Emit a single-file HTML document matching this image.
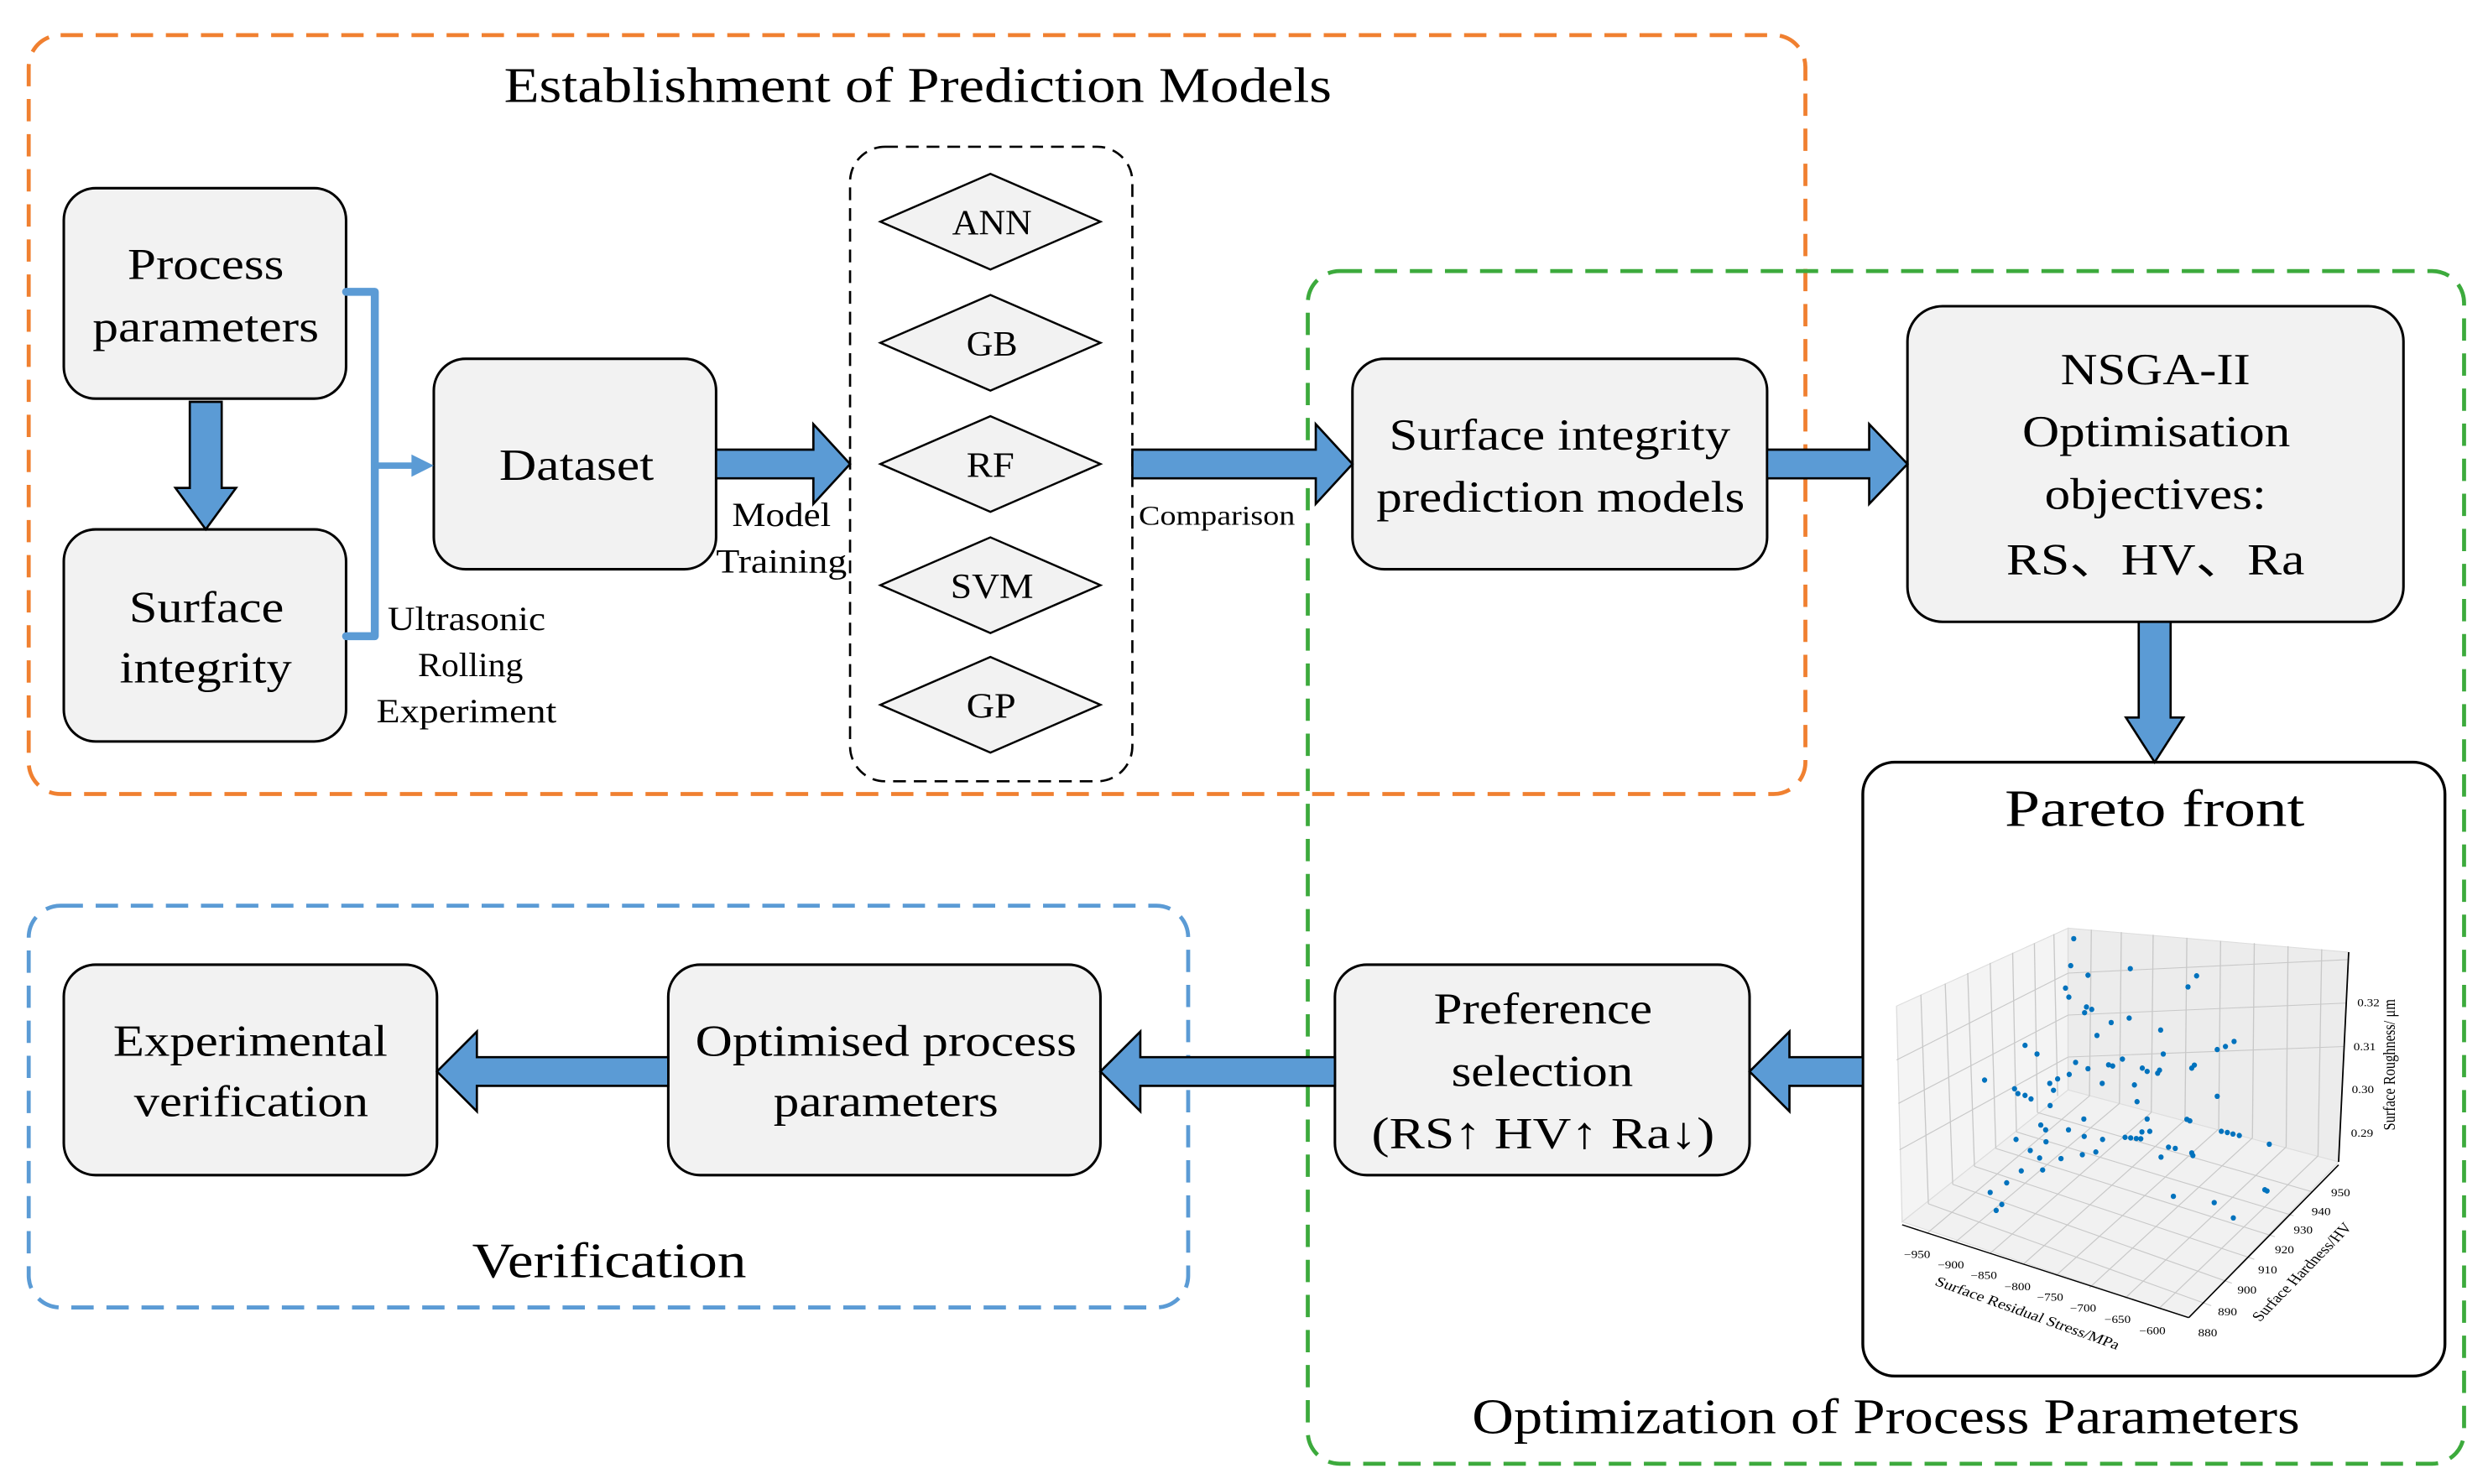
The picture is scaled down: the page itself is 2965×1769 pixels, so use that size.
<!DOCTYPE html>
<html><head><meta charset="utf-8"><style>
html,body{margin:0;padding:0;background:#fff}
svg{display:block}
svg text{font-family:"Liberation Serif","Times New Roman",serif;fill:#000}
</style></head><body>
<svg width="2965" height="1769" viewBox="0 0 1560 930.7" xmlns="http://www.w3.org/2000/svg" font-family="Liberation Serif, serif">
<rect x="0" y="0" width="1560" height="931" fill="#fff"/>
<rect x="18" y="22" width="1114" height="476" rx="20" fill="none" stroke="#F08030" stroke-width="2.5" stroke-dasharray="14 8"/>
<rect x="820" y="170" width="725" height="748" rx="20" fill="none" stroke="#3CAA3C" stroke-width="2.5" stroke-dasharray="14 8"/>
<rect x="18" y="568" width="727" height="252" rx="20" fill="none" stroke="#5B9BD5" stroke-width="2.5" stroke-dasharray="14 8"/>
<text x="316" y="64" font-size="31" textLength="519" lengthAdjust="spacingAndGlyphs">Establishment of Prediction Models</text>
<text x="923" y="899" font-size="31" textLength="519" lengthAdjust="spacingAndGlyphs">Optimization of Process Parameters</text>
<text x="296" y="801" font-size="31" textLength="172" lengthAdjust="spacingAndGlyphs">Verification</text>

<g fill="#f2f2f2" stroke="#000" stroke-width="1.6">
<rect x="40" y="118" width="177" height="132" rx="20"/>
<rect x="40" y="332" width="177" height="133" rx="20"/>
<rect x="272" y="225" width="177" height="132" rx="20"/>
<rect x="848" y="225" width="260" height="132" rx="20"/>
<rect x="1196" y="192" width="311" height="198" rx="22"/>
<rect x="837" y="605" width="260" height="132" rx="20"/>
<rect x="419" y="605" width="271" height="132" rx="20"/>
<rect x="40" y="605" width="234" height="132" rx="20"/>
</g>
<rect x="1168" y="478" width="365" height="385" rx="20" fill="#fff" stroke="#000" stroke-width="1.8"/>
<rect x="533" y="92" width="177" height="398" rx="22" fill="none" stroke="#000" stroke-width="1.4" stroke-dasharray="8 5"/>

<g font-size="28">
<text x="80" y="175" textLength="98" lengthAdjust="spacingAndGlyphs">Process</text>
<text x="58" y="214" textLength="142" lengthAdjust="spacingAndGlyphs">parameters</text>
<text x="81" y="390" textLength="97" lengthAdjust="spacingAndGlyphs">Surface</text>
<text x="75" y="428" textLength="108" lengthAdjust="spacingAndGlyphs">integrity</text>
<text x="313" y="301" textLength="97" lengthAdjust="spacingAndGlyphs">Dataset</text>
<text x="871" y="282" textLength="214" lengthAdjust="spacingAndGlyphs">Surface integrity</text>
<text x="863" y="321" textLength="231" lengthAdjust="spacingAndGlyphs">prediction models</text>
<text x="1292" y="241" textLength="119" lengthAdjust="spacingAndGlyphs">NSGA-II</text>
<text x="1268" y="280" textLength="168" lengthAdjust="spacingAndGlyphs">Optimisation</text>
<text x="1282" y="319" textLength="139" lengthAdjust="spacingAndGlyphs">objectives:</text>
<text x="1258" y="360" textLength="187" lengthAdjust="spacingAndGlyphs">RS、HV、Ra</text>
<text x="899" y="642" textLength="137" lengthAdjust="spacingAndGlyphs">Preference</text>
<text x="910" y="681" textLength="114" lengthAdjust="spacingAndGlyphs">selection</text>
<text x="860" y="720" textLength="215" lengthAdjust="spacingAndGlyphs">(RS↑  HV↑ Ra↓)</text>
<text x="436" y="662" textLength="239" lengthAdjust="spacingAndGlyphs">Optimised process</text>
<text x="485" y="700" textLength="141" lengthAdjust="spacingAndGlyphs">parameters</text>
<text x="71" y="662" textLength="172" lengthAdjust="spacingAndGlyphs">Experimental</text>
<text x="84" y="700" textLength="147" lengthAdjust="spacingAndGlyphs">verification</text>
</g>
<text x="1257" y="518" font-size="33" textLength="188" lengthAdjust="spacingAndGlyphs">Pareto front</text>

<g fill="#f2f2f2" stroke="#000" stroke-width="1.3">
<polygon points="552,139 621,109 690,139 621,169"/>
<polygon points="552,215 621,185 690,215 621,245"/>
<polygon points="552,291 621,261 690,291 621,321"/>
<polygon points="552,367 621,337 690,367 621,397"/>
<polygon points="552,442 621,412 690,442 621,472"/>
</g>
<g font-size="22">
<text x="597" y="147" textLength="50" lengthAdjust="spacingAndGlyphs">ANN</text>
<text x="606" y="223" textLength="32" lengthAdjust="spacingAndGlyphs">GB</text>
<text x="606" y="299" textLength="30" lengthAdjust="spacingAndGlyphs">RF</text>
<text x="596" y="375" textLength="52" lengthAdjust="spacingAndGlyphs">SVM</text>
<text x="606" y="450" textLength="31" lengthAdjust="spacingAndGlyphs">GP</text>
</g>

<g font-size="21">
<text x="459" y="330" textLength="62" lengthAdjust="spacingAndGlyphs">Model</text>
<text x="449" y="359" textLength="82" lengthAdjust="spacingAndGlyphs">Training</text>
<text x="243" y="395" textLength="99" lengthAdjust="spacingAndGlyphs">Ultrasonic</text>
<text x="262" y="424" textLength="66" lengthAdjust="spacingAndGlyphs">Rolling</text>
<text x="236" y="453" textLength="113" lengthAdjust="spacingAndGlyphs">Experiment</text>
</g>
<text x="714" y="329" font-size="17" textLength="98" lengthAdjust="spacingAndGlyphs">Comparison</text>

<polyline points="217,183 235,183 235,399 217,399" fill="none" stroke="#5B9BD5" stroke-width="5" stroke-linecap="round" stroke-linejoin="round"/>
<line x1="235" y1="292" x2="262" y2="292" stroke="#5B9BD5" stroke-width="4"/>
<polygon points="258,285 272,292 258,299" fill="#5B9BD5"/>

<g fill="#5B9BD5" stroke="#000" stroke-width="1.4">
<polygon points="449,282 510,282 510,266 533,291 510,316 510,300 449,300"/>
<polygon points="710,282 825,282 825,266 848,291 825,316 825,300 710,300"/>
<polygon points="1108,282 1172,282 1172,266 1196,291 1172,316 1172,300 1108,300"/>
<polygon points="1168,663 1122,663 1122,647 1097,672 1122,697 1122,681 1168,681"/>
<polygon points="837,663 715,663 715,647 690,672 715,697 715,681 837,681"/>
<polygon points="419,663 299,663 299,647 274,672 299,697 299,681 419,681"/>
<polygon points="119,252 139,252 139,306 148,306 129,332 110,306 119,306"/>
<polygon points="1341,390 1361,390 1361,450 1369,450 1351,478 1333,450 1341,450"/>
</g>

<g transform="translate(1168,557.7) scale(0.2349,0.1879)">
<polygon points="90,390 548,130 548,670 105,1110" fill="#f4f4f4" stroke="#ddd" stroke-width="3"/>
<polygon points="548,130 1297,210 1270,910 548,670" fill="#ececec" stroke="#ddd" stroke-width="3"/>
<polygon points="105,1110 548,670 1270,910 870,1430" fill="#f1f1f1" stroke="#ddd" stroke-width="3"/>
<g stroke="#c8c8c8" stroke-width="3" fill="none">
<line x1="155" y1="352" x2="175" y2="1050"/><line x1="220" y1="315" x2="240" y2="985"/><line x1="280" y1="280" x2="298" y2="925"/><line x1="340" y1="246" x2="355" y2="865"/><line x1="400" y1="212" x2="410" y2="810"/><line x1="458" y1="180" x2="466" y2="745"/><line x1="510" y1="150" x2="520" y2="690"/>
<line x1="610" y1="135" x2="605" y2="690"/><line x1="690" y1="143" x2="685" y2="715"/><line x1="775" y1="152" x2="770" y2="745"/><line x1="865" y1="162" x2="860" y2="770"/><line x1="955" y1="172" x2="950" y2="800"/><line x1="1045" y1="180" x2="1040" y2="830"/><line x1="1135" y1="190" x2="1130" y2="860"/><line x1="1225" y1="200" x2="1215" y2="890"/>
<line x1="548" y1="420" x2="1290" y2="380"/><line x1="548" y1="560" x2="1285" y2="525"/><line x1="548" y1="280" x2="1294" y2="235"/>
<line x1="90" y1="570" x2="548" y2="280"/><line x1="95" y1="715" x2="548" y2="420"/><line x1="98" y1="870" x2="548" y2="560"/>
<line x1="175" y1="1050" x2="930" y2="1390"/><line x1="240" y1="985" x2="985" y2="1315"/><line x1="298" y1="925" x2="1045" y2="1235"/><line x1="355" y1="865" x2="1100" y2="1160"/><line x1="410" y1="810" x2="1150" y2="1090"/><line x1="466" y1="745" x2="1200" y2="1010"/>
<line x1="170" y1="1150" x2="605" y2="690"/><line x1="245" y1="1180" x2="685" y2="715"/><line x1="340" y1="1215" x2="770" y2="745"/><line x1="430" y1="1250" x2="860" y2="770"/><line x1="515" y1="1290" x2="950" y2="800"/><line x1="605" y1="1330" x2="1040" y2="830"/><line x1="700" y1="1365" x2="1130" y2="860"/><line x1="790" y1="1400" x2="1215" y2="890"/>
</g>
<g stroke="#000" stroke-width="4" fill="none">
<line x1="1297" y1="210" x2="1270" y2="910"/>
<line x1="105" y1="1120" x2="870" y2="1430"/>
<line x1="870" y1="1430" x2="1270" y2="920"/>
</g>
<g fill="#0072BD">
<ellipse cx="563" cy="165" rx="7" ry="9"/><ellipse cx="555" cy="255" rx="7" ry="9"/><ellipse cx="714" cy="265" rx="7" ry="9"/><ellipse cx="601" cy="287" rx="7" ry="9"/><ellipse cx="891" cy="289" rx="7" ry="9"/><ellipse cx="541" cy="330" rx="7" ry="9"/><ellipse cx="868" cy="326" rx="7" ry="9"/><ellipse cx="550" cy="360" rx="7" ry="9"/><ellipse cx="597" cy="393" rx="7" ry="9"/><ellipse cx="611" cy="401" rx="7" ry="9"/><ellipse cx="592" cy="412" rx="7" ry="9"/><ellipse cx="711" cy="430" rx="7" ry="9"/><ellipse cx="663" cy="445" rx="7" ry="9"/><ellipse cx="795" cy="470" rx="7" ry="9"/><ellipse cx="625" cy="488" rx="7" ry="9"/><ellipse cx="991" cy="508" rx="7" ry="9"/><ellipse cx="968" cy="525" rx="7" ry="9"/><ellipse cx="946" cy="535" rx="7" ry="9"/><ellipse cx="433" cy="521" rx="7" ry="9"/><ellipse cx="465" cy="550" rx="7" ry="9"/><ellipse cx="802" cy="550" rx="7" ry="9"/><ellipse cx="568" cy="578" rx="7" ry="9"/><ellipse cx="693" cy="567" rx="7" ry="9"/><ellipse cx="656" cy="586" rx="7" ry="9"/><ellipse cx="667" cy="590" rx="7" ry="9"/><ellipse cx="601" cy="599" rx="7" ry="9"/><ellipse cx="746" cy="597" rx="7" ry="9"/><ellipse cx="792" cy="604" rx="7" ry="9"/><ellipse cx="787" cy="614" rx="7" ry="9"/><ellipse cx="885" cy="587" rx="7" ry="9"/><ellipse cx="878" cy="597" rx="7" ry="9"/><ellipse cx="759" cy="608" rx="7" ry="9"/><ellipse cx="551" cy="618" rx="7" ry="9"/><ellipse cx="520" cy="633" rx="7" ry="9"/><ellipse cx="325" cy="637" rx="7" ry="9"/><ellipse cx="499" cy="648" rx="7" ry="9"/><ellipse cx="639" cy="648" rx="7" ry="9"/><ellipse cx="725" cy="653" rx="7" ry="9"/><ellipse cx="405" cy="666" rx="7" ry="9"/><ellipse cx="509" cy="671" rx="7" ry="9"/><ellipse cx="414" cy="682" rx="7" ry="9"/><ellipse cx="433" cy="688" rx="7" ry="9"/><ellipse cx="449" cy="700" rx="7" ry="9"/><ellipse cx="946" cy="691" rx="7" ry="9"/><ellipse cx="732" cy="709" rx="7" ry="9"/><ellipse cx="500" cy="722" rx="7" ry="9"/><ellipse cx="590" cy="767" rx="7" ry="9"/><ellipse cx="759" cy="767" rx="7" ry="9"/><ellipse cx="865" cy="768" rx="7" ry="9"/><ellipse cx="873" cy="773" rx="7" ry="9"/><ellipse cx="475" cy="787" rx="7" ry="9"/><ellipse cx="488" cy="803" rx="7" ry="9"/><ellipse cx="549" cy="803" rx="7" ry="9"/><ellipse cx="745" cy="810" rx="7" ry="9"/><ellipse cx="766" cy="808" rx="7" ry="9"/><ellipse cx="957" cy="808" rx="7" ry="9"/><ellipse cx="973" cy="812" rx="7" ry="9"/><ellipse cx="988" cy="817" rx="7" ry="9"/><ellipse cx="1005" cy="822" rx="7" ry="9"/><ellipse cx="409" cy="835" rx="7" ry="9"/><ellipse cx="591" cy="825" rx="7" ry="9"/><ellipse cx="640" cy="835" rx="7" ry="9"/><ellipse cx="700" cy="828" rx="7" ry="9"/><ellipse cx="715" cy="830" rx="7" ry="9"/><ellipse cx="730" cy="832" rx="7" ry="9"/><ellipse cx="742" cy="833" rx="7" ry="9"/><ellipse cx="489" cy="843" rx="7" ry="9"/><ellipse cx="816" cy="861" rx="7" ry="9"/><ellipse cx="834" cy="865" rx="7" ry="9"/><ellipse cx="1085" cy="851" rx="7" ry="9"/><ellipse cx="447" cy="872" rx="7" ry="9"/><ellipse cx="622" cy="877" rx="7" ry="9"/><ellipse cx="586" cy="886" rx="7" ry="9"/><ellipse cx="878" cy="880" rx="7" ry="9"/><ellipse cx="881" cy="889" rx="7" ry="9"/><ellipse cx="472" cy="897" rx="7" ry="9"/><ellipse cx="529" cy="899" rx="7" ry="9"/><ellipse cx="796" cy="894" rx="7" ry="9"/><ellipse cx="423" cy="940" rx="7" ry="9"/><ellipse cx="480" cy="937" rx="7" ry="9"/><ellipse cx="384" cy="980" rx="7" ry="9"/><ellipse cx="340" cy="1012" rx="7" ry="9"/><ellipse cx="1073" cy="1003" rx="7" ry="9"/><ellipse cx="1079" cy="1007" rx="7" ry="9"/><ellipse cx="829" cy="1025" rx="7" ry="9"/><ellipse cx="371" cy="1052" rx="7" ry="9"/><ellipse cx="938" cy="1046" rx="7" ry="9"/><ellipse cx="356" cy="1072" rx="7" ry="9"/><ellipse cx="989" cy="1097" rx="7" ry="9"/>
</g>
<g font-size="34">
<text x="1320" y="390">0.32</text><text x="1310" y="538">0.31</text><text x="1305" y="680">0.30</text><text x="1303" y="826">0.29</text>
<text x="110" y="1230">−950</text><text x="200" y="1265">−900</text><text x="288" y="1300">−850</text><text x="378" y="1338">−800</text><text x="465" y="1373">−750</text><text x="553" y="1410">−700</text><text x="645" y="1448">−650</text><text x="738" y="1486">−600</text>
<text x="1250" y="1025">950</text><text x="1198" y="1088">940</text><text x="1150" y="1150">930</text><text x="1100" y="1215">920</text><text x="1055" y="1282">910</text><text x="1000" y="1350">900</text><text x="948" y="1422">890</text><text x="895" y="1493">880</text>
</g>
<text font-size="46" transform="translate(190,1320) rotate(24)">Surface Residual Stress/MPa</text>
<text font-size="46" transform="translate(1060,1445) rotate(-52)">Surface Hardness/HV</text>
<text font-size="46" transform="translate(1420,805) rotate(-90)">Surface Roughness/ μm</text>
</g>
</svg>
</body></html>
